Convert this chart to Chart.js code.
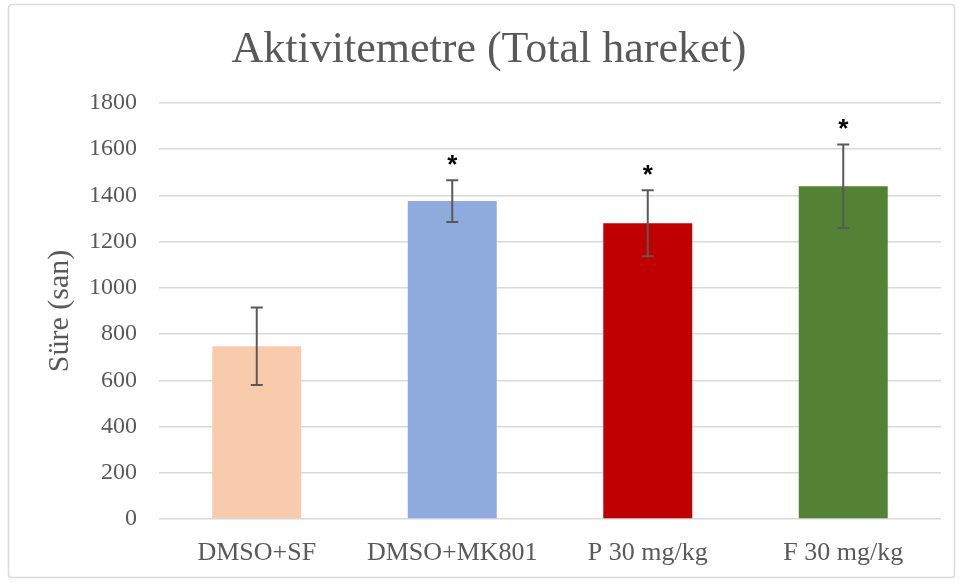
<!DOCTYPE html>
<html>
<head>
<meta charset="utf-8">
<script src="https://cdn.jsdelivr.net/npm/chart.js@4"></script>
<style>
  html, body { margin: 0; padding: 0; background: #fff; }
  #wrap { width: 960px; height: 582px; position: relative; }
</style>
</head>
<body>
<div id="wrap"><canvas id="myChart" width="960" height="582"></canvas></div>
<script>
const groups = ['DMSO+SF', 'DMSO+MK801', 'P 30 mg/kg', 'F 30 mg/kg']
const means = [747, 1375, 1279, 1439]
const errors = [168, 90, 143, 181]
const sigMarks = ['', '*', '*', '*']
const barColors = ['#F8CBAD', '#8FAADC', '#C00000', '#548235']
const yTicks = [0, 200, 400, 600, 800, 1000, 1200, 1400, 1600, 1800]

const textGray = '#595959'
const serif = "'Liberation Serif', 'Times New Roman', serif"

// outer frame like the office chart border
const framePlugin = {
    id: 'frame',
    beforeDraw(chart) {
        const ctx = chart.ctx
        ctx.save()
        ctx.strokeStyle = '#d9d9d9'
        ctx.lineWidth = 1.5
        ctx.beginPath()
        ctx.roundRect(8.5, 4.5, 946, 573, 3)
        ctx.stroke()
        ctx.restore()
    }
}

// error bars + significance stars, drawn from the data through the scales
const errorPlugin = {
    id: 'errorBars',
    afterDatasetsDraw(chart) {
        const ctx = chart.ctx
        const x = chart.scales.x
        const y = chart.scales.y
        ctx.save()
        for (let i = 0; i < means.length; i++) {
            const cx = x.getPixelForValue(i)
            const top = y.getPixelForValue(means[i] + errors[i])
            const bot = y.getPixelForValue(means[i] - errors[i])
            ctx.strokeStyle = '#595959'
            ctx.lineWidth = 2
            ctx.beginPath()
            ctx.moveTo(cx, top)
            ctx.lineTo(cx, bot)
            ctx.moveTo(cx - 6, top)
            ctx.lineTo(cx + 6, top)
            ctx.moveTo(cx - 6, bot)
            ctx.lineTo(cx + 6, bot)
            ctx.stroke()
            if (sigMarks[i]) {
                ctx.fillStyle = '#000'
                ctx.font = "bold 26px 'Liberation Sans', Arial, sans-serif"
                ctx.textAlign = 'center'
                ctx.textBaseline = 'alphabetic'
                ctx.fillText(sigMarks[i], cx, top - 7)
            }
        }
        ctx.restore()
    }
}

const ctx = document.getElementById('myChart').getContext('2d')
new Chart(ctx, {
    type: 'bar',
    data: {
        labels: groups,
        datasets: [{
            data: means,
            backgroundColor: barColors,
            borderWidth: 0,
            barPercentage: 0.455,
            categoryPercentage: 1
        }]
    },
    options: {
        responsive: false,
        animation: false,
        layout: { padding: { left: 37, right: 19, top: 5, bottom: 8 } },
        plugins: {
            legend: { display: false },
            tooltip: { enabled: false },
            title: {
                display: true,
                text: 'Aktivitemetre (Total hareket)',
                color: textGray,
                font: { family: serif, size: 44, weight: 'normal' },
                padding: { top: 19, bottom: 26 }
            }
        },
        scales: {
            x: {
                grid: { display: false },
                border: { display: false },
                ticks: { color: textGray, font: { family: serif, size: 26 }, padding: 11 },
                afterFit(scale) { scale.height = 55 }
            },
            y: {
                min: 0,
                max: 1800,
                afterBuildTicks(scale) { scale.ticks = yTicks.map(v => ({ value: v })) },
                grid: { color: '#d9d9d9', lineWidth: 1.5, drawTicks: false },
                border: { display: false },
                ticks: {
                    color: textGray,
                    font: { family: serif, size: 24 },
                    padding: 22,
                    callback: v => String(v)
                },
                title: {
                    display: true,
                    text: 'Süre (san)',
                    color: textGray,
                    font: { family: serif, size: 30 },
                    padding: { top: 5, bottom: 0 }
                },
                afterFit(scale) { scale.width = 122 }
            }
        }
    },
    plugins: [framePlugin, errorPlugin]
})
</script>
</body>
</html>
